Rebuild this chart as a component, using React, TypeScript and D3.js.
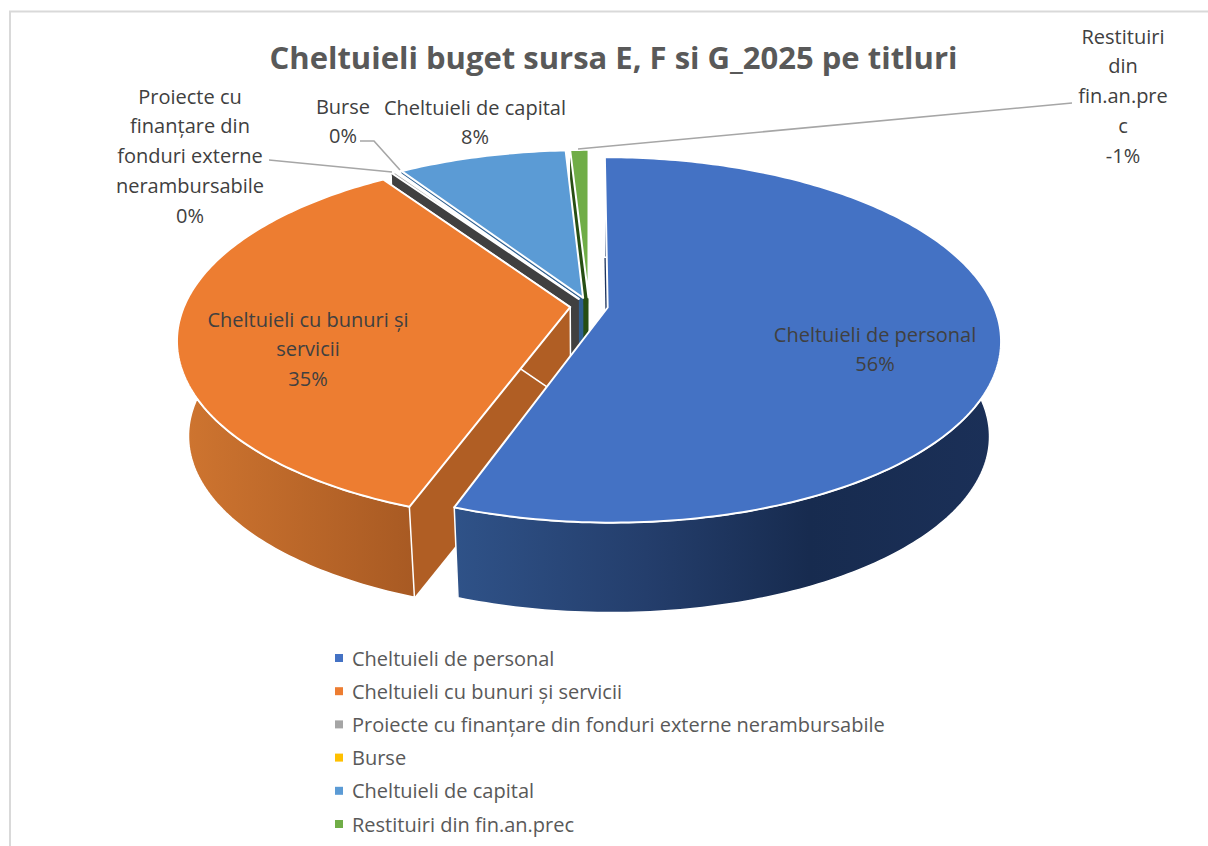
import React from "react";
import * as d3 from "d3";

const categories = [
  "Cheltuieli de personal",
  "Cheltuieli cu bunuri și servicii",
  "Proiecte cu finanțare din fonduri externe nerambursabile",
  "Burse",
  "Cheltuieli de capital",
  "Restituiri din fin.an.prec",
];
const values = [55.5, 35.0, 0.2, 0.1, 8.3, -0.9];
const percentLabels = ["56%", "35%", "0%", "0%", "8%", "-1%"];
const topColors = ["#4472c4", "#ed7d31", "#a5a5a5", "#ffc000", "#5b9bd5", "#70ad47"];
const wallColors = ["#1e355f", "#b05e24", "#404040", "#44546a", "#2f5f8f", "#274e13"];
const titleText = "Cheltuieli buget sursa E, F si G_2025 pe titluri";

const labelLines = [
  { lines: ["Cheltuieli de personal", "56%"], x: 875, y: 334 },
  { lines: ["Cheltuieli cu bunuri și", "servicii", "35%"], x: 308, y: 319 },
  { lines: ["Proiecte cu", "finanțare din", "fonduri externe", "nerambursabile", "0%"], x: 190, y: 96 },
  { lines: ["Burse", "0%"], x: 343, y: 106 },
  { lines: ["Cheltuieli de capital", "8%"], x: 475, y: 107 },
  { lines: ["Restituiri", "din", "fin.an.pre", "c", "-1%"], x: 1123, y: 36 },
];
const leaders: [number, number][][] = [
  [[578, 149], [1072, 103]],
  [[269, 160], [392, 172]],
  [[360, 141], [374, 141], [400, 170]],
];

const cx = 589, cy = 306, a = 386, b = 176.5, p = 0.177;
const depth = 96, bottomScale = 0.972, explode = 0.049;
const font = "'Open Sans', sans-serif";
const lineHeight = 29.8;

type Pt = [number, number];
const project = (u: number, v: number, bottom = false): Pt => {
  const s = 1 / (1 - p * v);
  const x = a * u * s, y = b * v * s;
  return bottom ? [cx + x * bottomScale, cy + depth + y * bottomScale] : [cx + x, cy + y];
};
const path = d3.line<Pt>();

export default function App() {
  const arcs = d3.pie<number>().sort(null).value((d) => Math.abs(d))(values);
  const items = arcs.map((arc, i) => {
    const mid = (arc.startAngle + arc.endAngle) / 2;
    const ou = explode * Math.sin(mid), ov = -explode * Math.cos(mid);
    const plane = (t: number): Pt => [ou + Math.sin(t), ov - Math.cos(t)];
    const n = Math.max(4, Math.ceil((arc.endAngle - arc.startAngle) * 60));
    const ts = d3.range(n + 1).map((k) => arc.startAngle + ((arc.endAngle - arc.startAngle) * k) / n);
    const rim = ts.map(plane);
    const top = rim.map(([u, v]) => project(u, v));
    const bot = rim.map(([u, v]) => project(u, v, true));
    const apexT = project(ou, ov), apexB = project(ou, ov, true);
    return {
      i,
      topPath: path([apexT, ...top]) + "Z",
      outer: path([...top, ...[...bot].reverse()]) + "Z",
      startWall: path([apexT, top[0], bot[0], apexB]) + "Z",
      endWall: path([apexT, top[n], bot[n], apexB]) + "Z",
    };
  });
  const drawOrder = [5, 4, 3, 2, 1, 0];
  const wallFill = (i: number) => (i === 0 ? "url(#blueWall)" : i === 1 ? "url(#orangeWall)" : wallColors[i]);
  const legendY = d3.scalePoint<string>().domain(categories).range([658, 824]);

  return (
    <svg width={1208} height={846} style={{ position: "absolute", left: 0, top: 0, background: "#fff" }}>
      <defs>
        <linearGradient id="blueWall" gradientUnits="userSpaceOnUse" x1={455} x2={1000} y1={0} y2={0}>
          <stop offset="0" stopColor="#2f5288" />
          <stop offset="0.35" stopColor="#243e6c" />
          <stop offset="0.65" stopColor="#172b4f" />
          <stop offset="1" stopColor="#1b3058" />
        </linearGradient>
        <linearGradient id="orangeWall" gradientUnits="userSpaceOnUse" x1={180} x2={414} y1={0} y2={0}>
          <stop offset="0" stopColor="#cf7530" />
          <stop offset="1" stopColor="#a85a23" />
        </linearGradient>
      </defs>
      <path d="M10,858 V11.5 H1208" fill="none" stroke="#d9d9d9" strokeWidth={2} />
      {drawOrder.map((idx) => {
        const it = items[idx];
        const edge = idx <= 1 ? "#fff" : "none";
        return (
          <g key={idx}>
            <path d={it.startWall} fill={wallColors[idx]} />
            <path d={it.endWall} fill={wallColors[idx]} stroke={idx === 1 ? "#fff" : "none"} strokeWidth={1.5} />
            <path d={it.outer} fill={wallFill(idx)} stroke={edge} strokeWidth={1.5} />
            <path d={it.topPath} fill={topColors[idx]} stroke="#fff" strokeWidth={2} strokeLinejoin="round" />
          </g>
        );
      })}
      {leaders.map((l, i) => (
        <path key={i} d={path(l) ?? ""} fill="none" stroke="#a6a6a6" strokeWidth={1.6} />
      ))}
      <text x={613.5} y={57} dominantBaseline="central" textAnchor="middle" fontFamily={font} fontWeight={700} fontSize={31} fill="#595959">
        {titleText}
      </text>
      {labelLines.map((lab, i) => (
        <text key={i} textAnchor="middle" fontFamily={font} fontSize={20} fill="#404040">
          {lab.lines.map((ln, k) => (
            <tspan key={k} x={lab.x} y={lab.y + k * lineHeight} dominantBaseline="central">
              {ln}
            </tspan>
          ))}
        </text>
      ))}
      {categories.map((c, i) => (
        <g key={c}>
          <rect x={335} y={legendY(c)! - 4} width={8} height={8} fill={topColors[i]} />
          <text x={352} y={legendY(c)!} dominantBaseline="central" fontFamily={font} fontSize={20} fill="#595959">
            {c}
          </text>
        </g>
      ))}
    </svg>
  );
}
